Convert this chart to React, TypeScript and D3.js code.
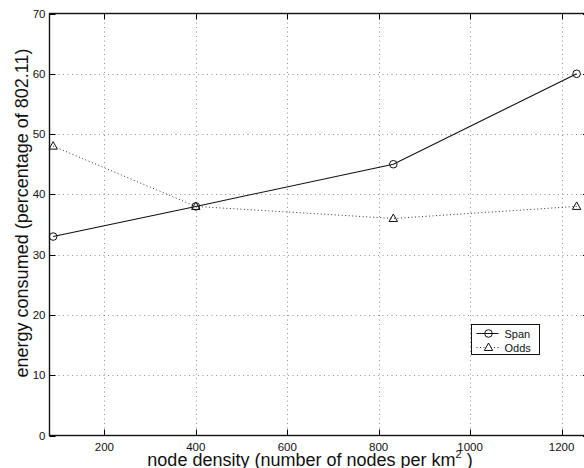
import React from "react";
import * as d3 from "d3";

const spanX = [88, 400, 832, 1233];
const spanY = [33, 38, 45, 60];
const oddsX = [88, 400, 832, 1233];
const oddsY = [48, 38, 36, 38];
const xTicks = [200, 400, 600, 800, 1000, 1200];
const yTicks = [0, 10, 20, 30, 40, 50, 60, 70];
const seriesNames = ["Span", "Odds"];

const W = 584, H = 468;
const L = 49.5, R = 589, T = 13.5, B = 435.5;
const FONT = "'Liberation Sans', Arial, Helvetica, sans-serif";

export default function App() {
  const x = d3.scaleLinear().domain([80, 1260]).range([L, R]);
  const y = d3.scaleLinear().domain([0, 70]).range([B, T]);
  const line = d3.line<[number, number]>().x(d => x(d[0])).y(d => y(d[1]));
  const span = spanX.map((v, i) => [v, spanY[i]] as [number, number]);
  const odds = oddsX.map((v, i) => [v, oddsY[i]] as [number, number]);
  const tri = (cx: number, cy: number) =>
    `M${cx},${cy - 4.5}L${cx + 4.2},${cy + 3}L${cx - 4.2},${cy + 3}Z`;
  const tk = 6;
  const lgX = 471.5, lgY = 324.5, lgW = 68, lgH = 30;
  return (
    <svg width={W} height={H} style={{ position: "absolute", left: 0, top: 0, background: "#fff" }}
      fontFamily={FONT}>
      <rect x={0} y={0} width={W} height={H} fill="#fff" />
      {/* grid */}
      {xTicks.map(t => (
        <line key={"gx" + t} x1={Math.round(x(t)) + 0.5} x2={Math.round(x(t)) + 0.5} y1={T} y2={B}
          stroke="#777" strokeWidth={0.8} strokeDasharray="1,3.5" />
      ))}
      {yTicks.filter(t => t > 0 && t < 70).map(t => (
        <line key={"gy" + t} x1={L} x2={R} y1={Math.round(y(t)) + 0.5} y2={Math.round(y(t)) + 0.5}
          stroke="#777" strokeWidth={0.8} strokeDasharray="1,3.5" />
      ))}
      {/* ticks */}
      {xTicks.map(t => (
        <g key={"tx" + t}>
          <line x1={Math.round(x(t)) + 0.5} x2={Math.round(x(t)) + 0.5} y1={B} y2={B - tk} stroke="#000" />
          <line x1={Math.round(x(t)) + 0.5} x2={Math.round(x(t)) + 0.5} y1={T} y2={T + tk} stroke="#000" />
          <text x={x(t)} y={B + 15} fontSize={11.5} textAnchor="middle" fill="#111">{t}</text>
        </g>
      ))}
      {yTicks.map(t => (
        <g key={"ty" + t}>
          <line x1={L} x2={L + tk} y1={Math.round(y(t)) + 0.5} y2={Math.round(y(t)) + 0.5} stroke="#000" />
          <line x1={R} x2={R - tk} y1={Math.round(y(t)) + 0.5} y2={Math.round(y(t)) + 0.5} stroke="#000" />
          <text x={L - 4} y={y(t) + 4} fontSize={11.5} textAnchor="end" fill="#111">{t}</text>
        </g>
      ))}
      {/* frame */}
      <rect x={L} y={T} width={R - L} height={B - T} fill="none" stroke="#111" strokeWidth={1.4} />
      {/* series */}
      <path d={line(odds) || ""} fill="none" stroke="#333" strokeWidth={1} strokeDasharray="1,2.5" />
      <path d={line(span) || ""} fill="none" stroke="#111" strokeWidth={1.1} />
      {span.map((d, i) => (
        <circle key={"c" + i} cx={x(d[0])} cy={y(d[1])} r={3.8} fill="none" stroke="#111" strokeWidth={1} />
      ))}
      {odds.map((d, i) => (
        <path key={"t" + i} d={tri(x(d[0]), y(d[1]))} fill="none" stroke="#111" strokeWidth={1} />
      ))}
      {/* legend */}
      <rect x={lgX} y={lgY} width={lgW} height={lgH} fill="#fff" stroke="#111" strokeWidth={1} />
      <line x1={lgX + 5} x2={lgX + 27} y1={lgY + 9} y2={lgY + 9} stroke="#111" strokeWidth={1} />
      <circle cx={lgX + 17} cy={lgY + 9} r={3.8} fill="none" stroke="#111" />
      <text x={lgX + 33} y={lgY + 13} fontSize={11} fill="#111">{seriesNames[0]}</text>
      <line x1={lgX + 5} x2={lgX + 27} y1={lgY + 23} y2={lgY + 23} stroke="#333" strokeDasharray="1,2.5" />
      <path d={tri(lgX + 17, lgY + 23)} fill="#fff" stroke="#111" />
      <text x={lgX + 33} y={lgY + 27} fontSize={11} fill="#111">{seriesNames[1]}</text>
      {/* axis labels */}
      <text x={310} y={466} fontSize={18} textAnchor="middle" fill="#111">
        node density (number of nodes per km<tspan fontSize={11} dy={-8}>2</tspan><tspan dy={8}> )</tspan>
      </text>
      <text transform={`translate(28,213) rotate(-90)`} fontSize={18} textAnchor="middle" fill="#111">
        energy consumed (percentage of 802.11)
      </text>
    </svg>
  );
}
